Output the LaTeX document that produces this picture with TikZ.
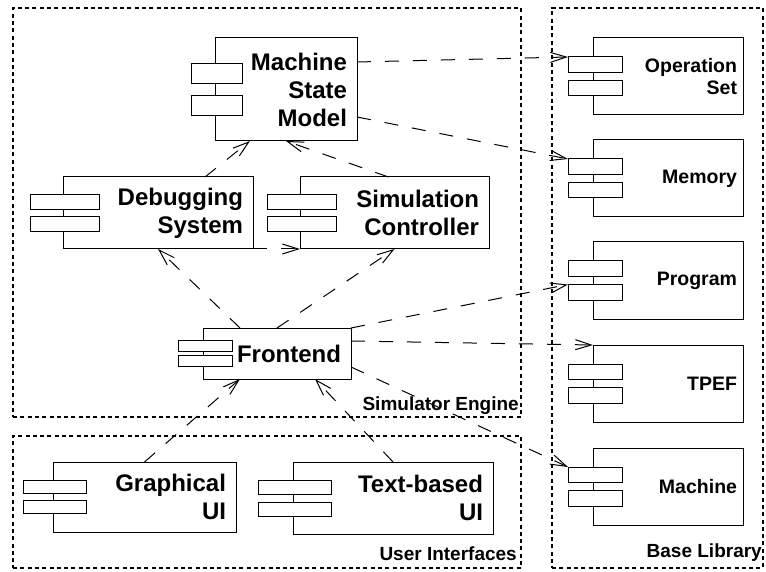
\documentclass[tikz,border=0pt]{standalone}
\usepackage{fontspec}
\setmainfont{Liberation Sans}
\usetikzlibrary{arrows.meta}
% component: name, left, top, width, height, tab width, tab height, tab offset, text
\newcommand{\comp}[9]{%
    \pgfmathsetmacro{\cw}{#4-20}
    \node[body, text width=\cw pt, minimum height=#5pt] (#1) at (#2,#3) {#9};
    \node[tab, minimum width=#6pt, minimum height=#7pt] (#1-a)
        at ([xshift=2pt,yshift=#8pt]#1.west) {};
    \node[tab, minimum width=#6pt, minimum height=#7pt] (#1-b)
        at ([xshift=2pt,yshift=-#8pt]#1.west) {};
}
% library component: name, top, text
\newcommand{\libcomp}[3]{%
    \node[body, libbody, text width=138pt, minimum height=77pt] (#1) at (593,#2) {#3};
    \node[tab, minimum width=54pt, minimum height=15.5pt] (#1-a)
        at ([xshift=2pt,yshift=11.75pt]#1.west) {};
    \node[tab, minimum width=54pt, minimum height=15.5pt] (#1-b)
        at ([xshift=2pt,yshift=-11.75pt]#1.west) {};
}

\begin{document}
\begin{tikzpicture}[
    x=1pt, y=-1pt,
    body/.style = {rectangle, draw, anchor=north west, align=right,
        inner xsep=10pt, inner ysep=0pt, outer sep=0pt, line width=1pt,
        font=\bfseries\fontsize{24}{28}\selectfont},
    libbody/.style = {inner xsep=6pt, font=\bfseries\fontsize{19.5}{22.5}\selectfont},
    tab/.style = {rectangle, draw, fill=white, inner sep=0pt, outer sep=0pt,
        line width=1pt},
    group/.style = {rectangle, draw, anchor=north west, inner sep=0pt,
        line width=2pt, dash pattern=on 4pt off 3.3pt},
    grouplbl/.style = {anchor=base east, inner sep=0pt,
        font=\bfseries\fontsize{19}{22}\selectfont},
    dep/.style = {draw, line width=1pt, dash pattern=on 14pt off 14pt,
        -{Straight Barb[length=16pt,width=10pt]}}
    ]
    \useasboundingbox (0,0) rectangle (766,572);
    % packages
    \node[group, minimum width=508pt, minimum height=409pt] (engine) at (12,7) {};
    \node[group, minimum width=508pt, minimum height=132pt] (ui) at (12,435) {};
    \node[group, minimum width=211pt, minimum height=560pt] (base) at (551,7) {};
    \node[grouplbl] (enginelbl) at ([xshift=-3pt,yshift=8pt]engine.south east)
        {Simulator Engine};
    \node[grouplbl] (uilbl) at ([xshift=-5pt,yshift=9pt]ui.south east)
        {User Interfaces};
    \node[grouplbl] (baselbl) at ([xshift=-2pt,yshift=12pt]base.south east)
        {Base Library};

    % simulator engine
    \comp{msm}{215}{38}{142}{103}{51}{20}{15.75}{Machine\\State\\Model}
    \comp{dbg}{63}{177}{190}{72}{69}{15}{11}{Debugging\\System}
    \comp{sim}{300}{177}{189}{72}{69}{15}{11}{Simulation\\Controller}
    \comp{fe}{203}{328}{148}{51}{54}{11}{7.75}{Frontend}

    % user interfaces
    \comp{gui}{53}{462}{183}{70}{63}{13}{10}{Graphical\hspace*{4pt}\\UI}
    \comp{tui}{293}{462}{200}{72}{73}{14}{11}{Text-based\hspace*{7pt}\\UI}

    % base library
    \libcomp{ops}{38}{Operation\\Set}
    \libcomp{mem}{140}{Memory}
    \libcomp{prog}{242}{Program}
    \libcomp{tpef}{345}{TPEF}
    \libcomp{mach}{448}{Machine}

    % dependencies
    \draw[dep] ([xshift=47pt]dbg.north) -- ([xshift=-36pt]msm.south);
    \draw[dep] ([xshift=-6pt]sim.north) -- (msm.south);
    \draw[dep] (dbg.south east) -- (sim.south west);
    \draw[dep] ([xshift=-37pt]fe.north) -- (dbg.south);
    \draw[dep] (fe.north) -- (sim.south);
    \draw[dep] ([yshift=27.5pt]msm.east) -- (ops-a.north west);
    \draw[dep] ([yshift=-27.5pt]msm.east) -- (mem-a.north west);
    \draw[dep] (fe.north east) -- (prog-b.north west);
    \draw[dep] ([yshift=12.5pt]fe.east) -- (tpef.north west);
    \draw[dep] ([yshift=-13.5pt]fe.east) -- (mach-a.north west);
    \draw[dep] (gui.north) -- ([xshift=-37pt]fe.south);
    \draw[dep] (tui.north) -- ([xshift=38pt]fe.south);
\end{tikzpicture}
\end{document}
